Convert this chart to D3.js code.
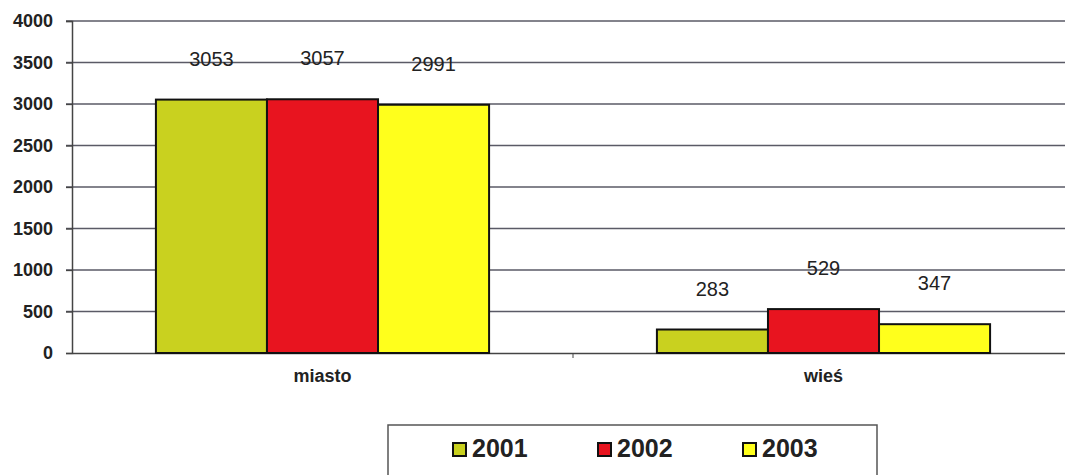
<!DOCTYPE html>
<html>
<head>
<meta charset="utf-8">
<script src="https://cdn.jsdelivr.net/npm/d3@7"></script>
<style>
  body { margin: 0; background: #fff; }
  svg { display: block; font-family: "Liberation Sans", Arial, sans-serif; }
</style>
</head>
<body>
<div id="chart"></div>
<script>
var categories = ["miasto", "wieś"];
var years = ["2001", "2002", "2003"];
var values2001 = [3053, 283];
var values2002 = [3057, 529];
var values2003 = [2991, 347];
var yTicks = [0, 500, 1000, 1500, 2000, 2500, 3000, 3500, 4000];
var colors = ["#c9d11f", "#e8141f", "#ffff1c"];

var svgWidth = 1065;
var svgHeight = 475;

var margin = { top: 21, right: -9, bottom: 122, left: 72 };
var width = svgWidth - margin.left - margin.right;
var height = svgHeight - margin.top - margin.bottom;

var svg = d3.select("#chart")
    .append("svg")
    .attr("width", svgWidth)
    .attr("height", svgHeight);

var chartGroup = svg.append("g")
    .attr("transform", `translate(${margin.left}, ${margin.top})`);

var series = [values2001, values2002, values2003];

var x0 = d3.scaleBand()
    .domain(categories)
    .range([0, width])
    .paddingInner(0)
    .paddingOuter(0);

// groups take about two thirds of each band
var groupWidth = x0.bandwidth() * 0.665;
var x1 = d3.scaleBand()
    .domain(years)
    .range([0, groupWidth]);

var y = d3.scaleLinear()
    .domain([0, 4000])
    .range([height, 0]);

// gridlines
chartGroup.selectAll(".grid")
    .data(yTicks.filter(t => t > 0))
    .enter()
    .append("line")
    .attr("x1", -6)
    .attr("x2", width)
    .attr("y1", t => y(t))
    .attr("y2", t => y(t))
    .attr("stroke", "#5a5a66")
    .attr("stroke-width", 1.3);

// y axis
var leftAxis = d3.axisLeft(y).tickValues(yTicks).tickFormat(d3.format("d")).tickSize(6).tickPadding(13);
var yAxis = chartGroup.append("g").call(leftAxis);
yAxis.select(".domain").attr("stroke", "#444").attr("stroke-width", 1.5);
yAxis.selectAll(".tick line").attr("stroke", "#444").attr("stroke-width", 1.3);
yAxis.selectAll("text")
    .style("font-size", "18px")
    .style("font-weight", "bold")
    .attr("fill", "#222");

// x axis
var bottomAxis = d3.axisBottom(x0).tickSize(0).tickPadding(16);
var xAxis = chartGroup.append("g")
    .attr("transform", `translate(0, ${height})`)
    .call(bottomAxis);
xAxis.select(".domain").attr("stroke", "#444").attr("stroke-width", 1.5);
xAxis.selectAll("text")
    .style("font-size", "18px")
    .style("font-weight", "bold")
    .attr("fill", "#222");

// tick between categories
chartGroup.append("line")
    .attr("x1", x0.bandwidth())
    .attr("x2", x0.bandwidth())
    .attr("y1", height)
    .attr("y2", height + 5)
    .attr("stroke", "#444");

var groups = chartGroup.selectAll(".group")
    .data(categories)
    .enter()
    .append("g")
    .attr("transform", c => `translate(${x0(c) + (x0.bandwidth() - groupWidth) / 2}, 0)`);

groups.selectAll("rect")
    .data((c, i) => years.map((yr, j) => ({ year: yr, value: series[j][i], j: j })))
    .enter()
    .append("rect")
    .attr("x", d => x1(d.year))
    .attr("y", d => y(d.value))
    .attr("width", x1.bandwidth())
    .attr("height", d => height - y(d.value))
    .attr("fill", d => colors[d.j])
    .attr("stroke", "#111")
    .attr("stroke-width", 2);

groups.selectAll(".val")
    .data((c, i) => years.map((yr, j) => ({ year: yr, value: series[j][i] })))
    .enter()
    .append("text")
    .attr("x", d => x1(d.year) + x1.bandwidth() / 2)
    .attr("y", d => y(d.value) - 34)
    .attr("text-anchor", "middle")
    .style("font-size", "20px")
    .attr("fill", "#222")
    .text(d => d.value);

// legend
var legend = svg.append("g");
legend.append("rect")
    .attr("x", 388)
    .attr("y", 425)
    .attr("width", 489)
    .attr("height", 60)
    .attr("fill", "#fff")
    .attr("stroke", "#555")
    .attr("stroke-width", 1.5);

var legendX = [453, 598, 743];
years.forEach(function(yr, j) {
    legend.append("rect")
        .attr("x", legendX[j])
        .attr("y", 443)
        .attr("width", 13)
        .attr("height", 13)
        .attr("fill", colors[j])
        .attr("stroke", "#111")
        .attr("stroke-width", 2);
    legend.append("text")
        .attr("x", legendX[j] + 19)
        .attr("y", 457)
        .style("font-size", "25px")
        .style("font-weight", "bold")
        .attr("fill", "#222")
        .text(yr);
});
</script>
</body>
</html>
